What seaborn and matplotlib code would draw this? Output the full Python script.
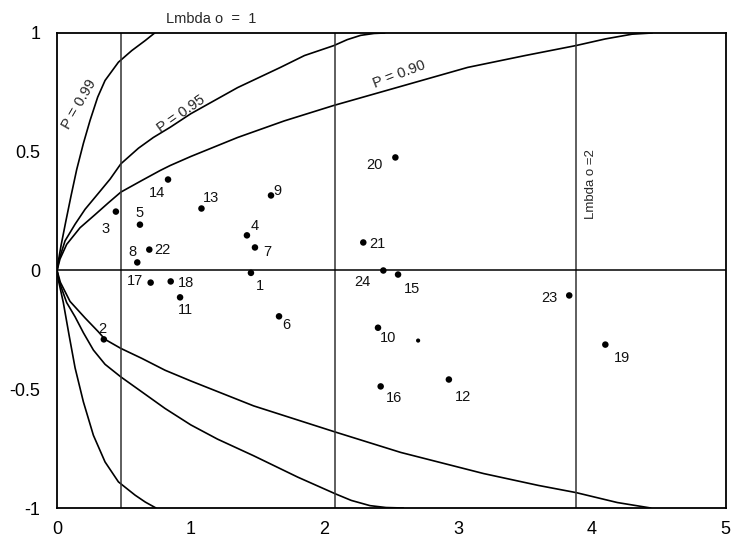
import matplotlib
matplotlib.use("Agg")
import matplotlib.pyplot as plt
import seaborn as sns
import pandas as pd

sns.set_theme(style="white")
plt.rcParams['font.family'] = ['Liberation Sans', 'DejaVu Sans']

# ---- data ----
point_ids = ["1", "2", "3", "4", "5", "6", "7", "8", "9", "10", "11", "12",
             "13", "14", "15", "16", "17", "18", "19", "20", "21", "22", "23", "24"]
point_x = [1.45, 0.35, 0.44, 1.42, 0.62, 1.66, 1.48, 0.60, 1.60, 2.40, 0.92, 2.93,
           1.08, 0.83, 2.55, 2.42, 0.70, 0.85, 4.10, 2.53, 2.29, 0.69, 3.83, 2.44]
point_y = [-0.01, -0.29, 0.248, 0.148, 0.193, -0.193, 0.097, 0.034, 0.316, -0.241, -0.113, -0.459,
           0.261, 0.383, -0.017, -0.488, -0.051, -0.046, -0.312, 0.476, 0.118, 0.088, -0.105, 0.0]
extra_x = [2.70]
extra_y = [-0.295]

# upper limit curves
p99_up_x = [0.0, 0.010, 0.030, 0.065, 0.105, 0.147, 0.197, 0.247, 0.304, 0.359, 0.459, 0.559, 0.659, 0.73]
p99_up_y = [0.0, 0.040, 0.105, 0.205, 0.315, 0.425, 0.535, 0.632, 0.730, 0.800, 0.877, 0.926, 0.968, 1.0]
p95_up_x = [0.0, 0.015, 0.060, 0.135, 0.21, 0.309, 0.397, 0.477, 0.609, 0.72, 0.846, 1.0, 1.35, 1.67,
            1.85, 2.07, 2.17, 2.27, 2.37, 2.45]
p95_up_y = [0.0, 0.045, 0.125, 0.195, 0.258, 0.325, 0.385, 0.449, 0.515, 0.56, 0.603, 0.66, 0.77, 0.855,
            0.905, 0.947, 0.972, 0.99, 0.998, 1.0]
p90_up_x = [0.0, 0.022, 0.072, 0.172, 0.284, 0.384, 0.477, 0.634, 0.771, 0.846, 1.0, 1.35, 1.7, 2.07,
            2.57, 3.07, 3.5, 3.88, 4.1, 4.3, 4.45]
p90_up_y = [0.0, 0.048, 0.11, 0.18, 0.235, 0.285, 0.33, 0.379, 0.421, 0.442, 0.48, 0.56, 0.63, 0.695,
            0.775, 0.855, 0.905, 0.947, 0.975, 0.995, 1.0]
# lower limit curves
p99_lo_x = [0.0, 0.012, 0.047, 0.09, 0.135, 0.197, 0.272, 0.359, 0.459, 0.584, 0.66, 0.74]
p99_lo_y = [0.0, -0.045, -0.135, -0.272, -0.41, -0.553, -0.694, -0.806, -0.89, -0.946, -0.975, -1.0]
p95_lo_x = [0.0, 0.018, 0.072, 0.135, 0.197, 0.272, 0.359, 0.477, 0.634, 0.808, 1.0, 1.2, 1.47,
            1.8, 2.08, 2.2, 2.34, 2.46, 2.59]
p95_lo_y = [0.0, -0.05, -0.135, -0.195, -0.262, -0.335, -0.395, -0.448, -0.511, -0.581, -0.65, -0.71, -0.78,
            -0.87, -0.94, -0.968, -0.99, -0.998, -1.0]
p90_lo_x = [0.0, 0.025, 0.097, 0.21, 0.309, 0.359, 0.477, 0.634, 0.808, 1.0, 1.47, 2.08, 2.57,
            3.19, 3.6, 3.88, 4.19, 4.44]
p90_lo_y = [0.0, -0.05, -0.13, -0.2, -0.258, -0.29, -0.328, -0.37, -0.42, -0.465, -0.57, -0.68, -0.766,
            -0.855, -0.905, -0.935, -0.977, -1.0]

lambda_lines = [0.477, 2.076, 3.877]
x_ticks = [0, 1, 2, 3, 4, 5]
x_tick_labels = ["0", "1", "2", "3", "4", "5"]
y_ticks = [-1, -0.5, 0, 0.5, 1]
y_tick_labels = ["-1", "-0.5", "0", "0.5", "1"]

# label offsets (pixels) relative to their dots
label_dx = [9, -2, -10, 8, 0, 7, 12, -5, 6, 10, 5, 14, 10, -11, 14, 13, -16, 15, 17, -21, 14, 13, -20, -21]
label_dy = [-13, 10, -17, 9, 12, -9, -5, 10, 4, -10, -13, -17, 11, -13, -14, -12, 2, -2, -13, -8, -2, 0, -3, -12]

# ---- figure ----
fig = plt.figure(figsize=(7.34, 5.39), dpi=100)
ax = fig.add_axes([0.0777, 0.0575, 0.911, 0.8813])

curves = [(p99_up_x, p99_up_y), (p95_up_x, p95_up_y), (p90_up_x, p90_up_y),
          (p99_lo_x, p99_lo_y), (p95_lo_x, p95_lo_y), (p90_lo_x, p90_lo_y)]
for cx, cy in curves:
    sns.lineplot(x=cx, y=cy, ax=ax, color="black", linewidth=1.2,
                 estimator=None, sort=False)

for lx in lambda_lines:
    ax.axvline(lx, color="#333333", linewidth=1.1)
ax.axhline(0, color="black", linewidth=1.1)

df = pd.DataFrame({"x": point_x, "y": point_y, "id": point_ids})
sns.scatterplot(data=df, x="x", y="y", ax=ax, color="black", s=22,
                edgecolor="none", zorder=5)
sns.scatterplot(x=extra_x, y=extra_y, ax=ax, color="black", s=9,
                edgecolor="none", zorder=5)

for i, lab in enumerate(point_ids):
    ax.annotate(lab, (point_x[i], point_y[i]), xytext=(label_dx[i], label_dy[i]),
                textcoords="offset pixels", ha="center", va="center",
                fontsize=10.5, color="#111111")

ax.text(0.165, 0.70, "P = 0.99", rotation=60, ha="center", va="center",
        fontsize=10.5, rotation_mode="anchor")
ax.text(0.93, 0.66, "P = 0.95", rotation=35, ha="center", va="center",
        fontsize=10.5, rotation_mode="anchor")
ax.text(2.56, 0.825, "P = 0.90", rotation=21, ha="center", va="center",
        fontsize=10.5, rotation_mode="anchor")
ax.text(1.15, 1.06, "Lmbda o  =  1", ha="center", va="center", fontsize=10.5,
        clip_on=False)
ax.text(3.99, 0.366, "Lmbda o =2", rotation=90, ha="center", va="center",
        fontsize=9.5)

ax.set_xlim(0, 5)
ax.set_ylim(-1, 1)
ax.set_xticks(x_ticks)
ax.set_xticklabels(x_tick_labels)
ax.set_yticks(y_ticks)
ax.set_yticklabels(y_tick_labels)
ax.tick_params(axis="both", length=0, labelsize=13, colors="black")
ax.tick_params(axis="y", pad=12)
ax.tick_params(axis="x", pad=9)
ax.set_xlabel("")
ax.set_ylabel("")
for sp in ax.spines.values():
    sp.set_color("black")
    sp.set_linewidth(1.3)
ax.grid(False)

fig.savefig("out.png", dpi=100, facecolor="white")
